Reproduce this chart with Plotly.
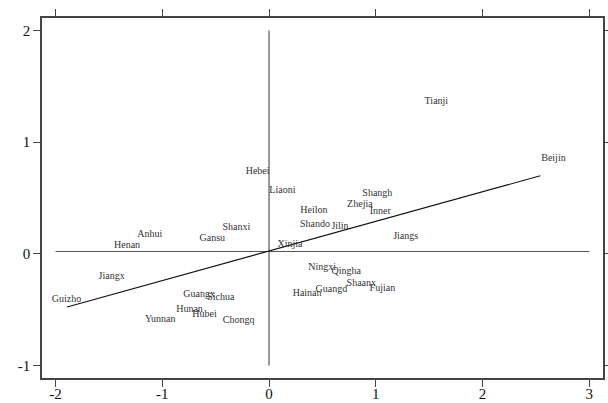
import plotly.graph_objects as go

# Province scores on the first two components
provinces = ["Tianji", "Beijin", "Hebei", "Liaoni", "Shangh", "Heilon", "Zhejia",
             "Inner", "Shando", "Jilin", "Jiangs", "Xinjia", "Ningxi", "Qingha",
             "Hainan", "Guangd", "Shaanx", "Fujian", "Anhui", "Henan", "Shanxi",
             "Gansu", "Jiangx", "Guizho", "Guangx", "Sichua", "Hunan", "Hubei",
             "Yunnan", "Chongq"]
comp1 = [1.568, 2.665, -0.107, 0.125, 1.015, 0.420, 0.851,
         1.043, 0.431, 0.665, 1.280, 0.197, 0.497, 0.723,
         0.357, 0.584, 0.865, 1.062, -1.117, -1.330, -0.306,
         -0.531, -1.475, -1.897, -0.655, -0.452, -0.745, -0.605,
         -1.019, -0.285]
comp2 = [1.361, 0.850, 0.737, 0.567, 0.537, 0.388, 0.439,
         0.379, 0.260, 0.244, 0.155, 0.080, -0.122, -0.161,
         -0.352, -0.322, -0.269, -0.310, 0.170, 0.072, 0.233,
         0.134, -0.203, -0.406, -0.361, -0.388, -0.501, -0.546,
         -0.591, -0.597]

# Fitted line through the scores
fit_x = [-1.892, 2.542]
fit_y = [-0.477, 0.698]

# Reference cross
hline_x = [-2, 3]
hline_y = [0.02, 0.02]
vline_x = [0, 0]
vline_y = [-1, 2]

x_ticks = [-2, -1, 0, 1, 2, 3]
x_tick_text = ["-2", "-1", "0", "1", "2", "3"]
y_ticks = [-1, 0, 1, 2]
y_tick_text = ["-1", "0", "1", "2"]

SERIF = "Liberation Serif"

fig = go.Figure()
fig.add_trace(go.Scatter(x=hline_x, y=hline_y, mode="lines",
                         line=dict(color="#555555", width=1.2), hoverinfo="skip"))
fig.add_trace(go.Scatter(x=vline_x, y=vline_y, mode="lines",
                         line=dict(color="#555555", width=1.2), hoverinfo="skip"))
fig.add_trace(go.Scatter(x=fit_x, y=fit_y, mode="lines",
                         line=dict(color="#111111", width=1.2), hoverinfo="skip"))
fig.add_trace(go.Scatter(x=comp1, y=comp2, mode="text", text=provinces,
                         textposition="middle center",
                         textfont=dict(family=SERIF, size=10, color="#333333")))

axis_common = dict(
    showgrid=False, zeroline=False, showline=True, linecolor="#444444", linewidth=1.5,
    mirror="ticks", ticks="outside", ticklen=7, tickwidth=1.2, tickcolor="#444444",
    tickfont=dict(family=SERIF, size=15, color="#111111"), automargin=False,
)

fig.update_layout(
    width=608, height=403,
    margin=dict(l=42, r=5, t=18, b=25),
    paper_bgcolor="white", plot_bgcolor="white",
    showlegend=False,
    xaxis=dict(range=[-2.127, 3.129], tickvals=x_ticks, ticktext=x_tick_text,
               ticklabelstandoff=-6, **axis_common),
    yaxis=dict(range=[-1.113, 2.111], tickvals=y_ticks, ticktext=y_tick_text, **axis_common),
)

fig.write_html("out.html")
